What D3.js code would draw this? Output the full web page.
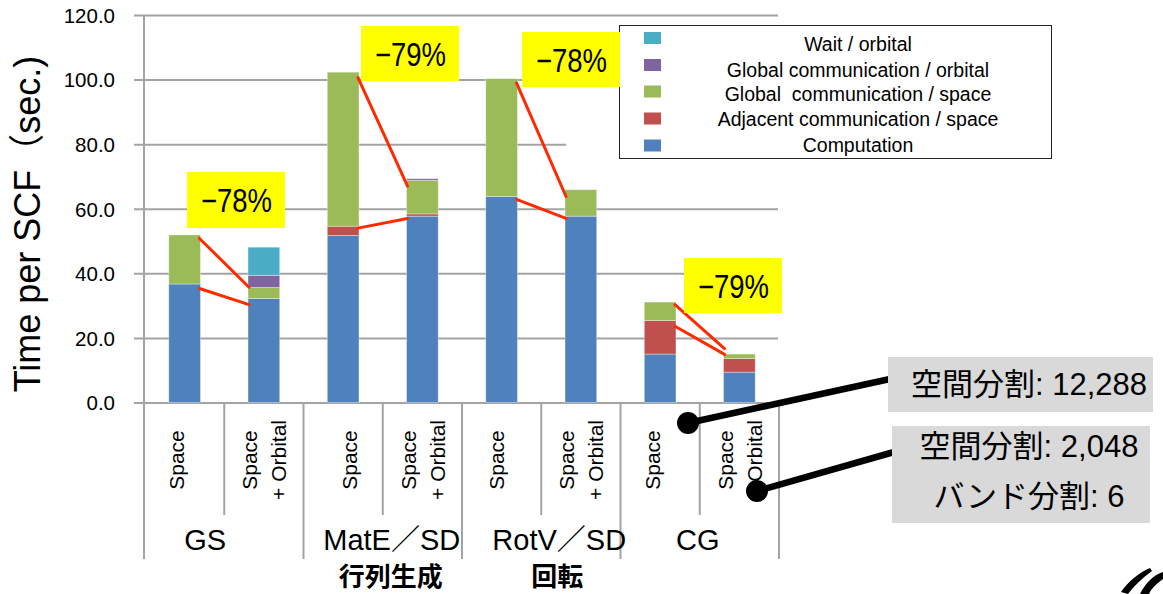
<!DOCTYPE html>
<html>
<head>
<meta charset="utf-8">
<script src="https://cdn.jsdelivr.net/npm/d3@7/dist/d3.min.js"></script>
<style>
  html, body { margin: 0; padding: 0; background: #ffffff; }
  svg { display: block; }
  text { font-family: "Liberation Sans", Arial, "Noto Sans CJK JP", sans-serif; fill: #000; }
  .cjk { font-family: "Liberation Sans", "Noto Sans CJK JP", sans-serif; }
</style>
</head>
<body>
<svg id="chart" width="1163" height="594"></svg>
<script>
// ---- data -------------------------------------------------------------
const groups = ["GS", "MatE／SD", "RotV／SD", "CG"];
const groupSubtitles = ["", "行列生成", "回転", ""];
const variants = [["Space"], ["Space", "+ Orbital"]];

// one entry per bar: GS-Space, GS-Space+Orbital, MatE-Space, ...
const computation   = [36.7, 32.2, 51.7, 57.7, 63.8, 57.7, 15.0, 9.4];
const adjacentSpace = [0.0, 0.0, 2.9, 0.7, 0.0, 0.0, 10.4, 4.2];
const globalSpace   = [15.2, 3.4, 47.7, 10.4, 36.5, 8.2, 5.7, 1.4];
const globalOrbital = [0.0, 3.8, 0.0, 0.5, 0.0, 0.0, 0.0, 0.0];
const waitOrbital   = [0.0, 8.7, 0.0, 0.0, 0.0, 0.0, 0.0, 0.0];

const seriesNames = [
  "Computation",
  "Adjacent communication / space",
  "Global  communication / space",
  "Global communication / orbital",
  "Wait / orbital"
];
const seriesColors = ["#4f81bd", "#c0504d", "#9bbb59", "#8064a2", "#4bacc6"];

const yTicks = [0, 20, 40, 60, 80, 100, 120];

// reduction annotations per group
const reductionLabels = ["−78%", "−79%", "−78%", "−79%"];
// connector lines: [value at Space bar, value at Space+Orbital bar]
const connectorUpper = [[50.8, 35.7], [100.6, 67.0], [99.0, 63.8], [30.3, 16.7]];
const connectorLower = [[35.3, 30.3], [54.0, 57.0], [62.9, 57.0], [23.6, 14.9]];

const calloutTexts = [["空間分割: 12,288"], ["空間分割: 2,048", "バンド分割: 6"]];

// ---- layout -----------------------------------------------------------
const svg = d3.select("#chart");
const plotLeft = 145, plotRight = 779, plotTop = 15, plotBottom = 402.5;

const y = d3.scaleLinear().domain([0, 120]).range([plotBottom, plotTop]);
const x = d3.scaleBand().domain(d3.range(8)).range([plotLeft, plotRight]).padding(0);
const barW = x.bandwidth() * 0.4;
const barX = i => x(i) + (x.bandwidth() - barW) / 2;
const gridColor = "#a3a3a3";

// label nudges (pixels) for single "Space" labels and group names
const spaceLabelShift = [-8, 0, 7, 0, -5, 0, -7, 0];
const groupLabelShift = [-19, 9, 18, -2];
const subtitleShift = [0, 8, 16, 0];

// ---- gridlines & y axis -----------------------------------------------
const yAxis = d3.axisLeft(y)
  .tickValues(yTicks)
  .tickSize(-(plotRight - plotLeft))
  .tickFormat(d3.format(".1f"));

const gAxis = svg.append("g")
  .attr("transform", `translate(${plotLeft - 1},0)`)
  .call(yAxis);
gAxis.select(".domain").remove();
gAxis.selectAll(".tick line")
  .attr("x1", -10)
  .attr("stroke", gridColor)
  .attr("stroke-width", 2);
gAxis.selectAll(".tick text")
  .attr("x", -29)
  .attr("dy", "0.36em")
  .style("font-size", "20.5px")
  .style("font-family", "'Liberation Sans', Arial, sans-serif")
  .attr("fill", "#000");

// y-axis line, continued down as the left frame of the category area
svg.append("line")
  .attr("x1", plotLeft - 1).attr("x2", plotLeft - 1)
  .attr("y1", plotTop).attr("y2", 559)
  .attr("stroke", gridColor).attr("stroke-width", 2);

// y-axis title
svg.append("text")
  .attr("class", "cjk")
  .attr("transform", `translate(40,224) rotate(-90)`)
  .attr("text-anchor", "middle")
  .style("font-size", "36px")
  .text("Time per SCF（sec.)");

// ---- stacked bars ------------------------------------------------------
const table = d3.range(8).map(i => ({
  i,
  s0: computation[i], s1: adjacentSpace[i], s2: globalSpace[i],
  s3: globalOrbital[i], s4: waitOrbital[i]
}));
const stack = d3.stack().keys(["s0", "s1", "s2", "s3", "s4"]);
const stacked = stack(table);

svg.append("g").selectAll("g")
  .data(stacked)
  .join("g")
  .attr("fill", (d, k) => seriesColors[k])
  .selectAll("rect")
  .data(d => d.filter(p => p[1] - p[0] > 0))
  .join("rect")
  .attr("x", p => barX(p.data.i))
  .attr("width", barW)
  .attr("y", p => y(p[1]))
  .attr("height", p => y(p[0]) - y(p[1]))
  .attr("stroke", "rgba(255,255,255,0.45)")
  .attr("stroke-width", 0.8);

// ---- red connector lines ----------------------------------------------
const connectors = [];
groups.forEach((g, gi) => {
  [connectorUpper[gi], connectorLower[gi]].forEach(c => connectors.push({
    x1: barX(gi * 2) + barW - 1, y1: y(c[0]),
    x2: barX(gi * 2 + 1) + 1, y2: y(c[1])
  }));
});
svg.append("g").selectAll("line")
  .data(connectors)
  .join("line")
  .attr("x1", d => d.x1).attr("y1", d => d.y1)
  .attr("x2", d => d.x2).attr("y2", d => d.y2)
  .attr("stroke", "#ff2a00")
  .attr("stroke-width", 3)
  .attr("stroke-linecap", "round");

// ---- category area (separators and labels) -----------------------------
const sep = svg.append("g");
d3.range(1, 9).forEach(k => {
  const xx = plotLeft + k * x.step();
  sep.append("line")
    .attr("x1", xx).attr("x2", xx)
    .attr("y1", plotBottom).attr("y2", k % 2 === 0 ? 559 : 515)
    .attr("stroke", gridColor).attr("stroke-width", 2);
});

const xl = svg.append("g");
d3.range(8).forEach(i => {
  const lines = variants[i % 2];
  const cx = x(i) + x.bandwidth() / 2 + spaceLabelShift[i];
  const t = xl.append("text")
    .attr("transform", `translate(${cx},460) rotate(-90)`)
    .attr("text-anchor", "middle")
    .style("font-size", "21px");
  if (lines.length === 1) {
    t.append("tspan").attr("x", 0).attr("y", 0).attr("dy", "0.35em").text(lines[0]);
  } else {
    t.append("tspan").attr("x", 0).attr("y", -14).attr("dy", "0.35em").text(lines[0]);
    t.append("tspan").attr("x", 0).attr("y", 15).attr("dy", "0.35em").text(lines[1]);
  }
});

groups.forEach((g, gi) => {
  const cx = plotLeft + (gi * 2 + 1) * x.step() + groupLabelShift[gi];
  xl.append("text")
    .attr("class", "cjk")
    .attr("x", cx).attr("y", 550)
    .attr("text-anchor", "middle")
    .style("font-size", "29px")
    .text(g);
  if (groupSubtitles[gi]) {
    xl.append("text")
      .attr("x", plotLeft + (gi * 2 + 1) * x.step() + subtitleShift[gi]).attr("y", 586)
      .attr("text-anchor", "middle")
      .style("font-family", "'Noto Sans CJK JP', sans-serif")
      .style("font-weight", "bold")
      .style("font-size", "26px")
      .text(groupSubtitles[gi]);
  }
});

// ---- legend ------------------------------------------------------------
svg.append("rect")
  .attr("x", 566).attr("y", 100).attr("width", 60).attr("height", 58)
  .attr("fill", "#ffffff");

const legend = svg.append("g");
legend.append("rect")
  .attr("x", 619.5).attr("y", 25.5).attr("width", 432).attr("height", 133)
  .attr("fill", "#ffffff").attr("stroke", "#222").attr("stroke-width", 1);

const legendOrder = [4, 3, 2, 1, 0];
const legendTextY = [44, 70, 94, 119.5, 145];
const legendSwatchY = [38, 65, 91.5, 118.5, 145.5];
legendOrder.forEach((k, r) => {
  legend.append("rect")
    .attr("x", 644).attr("y", legendSwatchY[r] - 6)
    .attr("width", 17).attr("height", 12)
    .attr("fill", seriesColors[k]);
  legend.append("text")
    .attr("x", 858).attr("y", legendTextY[r])
    .attr("dy", "0.35em")
    .attr("text-anchor", "middle")
    .style("font-size", "19.5px")
    .style("white-space", "pre")
    .text(seriesNames[k]);
});

// ---- reduction boxes ---------------------------------------------------
const boxRects = [[187, 172, 98, 56], [361, 26, 98, 55], [522, 32, 98, 55], [684, 258, 98, 55]];
const boxes = svg.append("g");
reductionLabels.forEach((lab, gi) => {
  const [bx, by, bw, bh] = boxRects[gi];
  boxes.append("rect")
    .attr("x", bx).attr("y", by).attr("width", bw).attr("height", bh)
    .attr("fill", "#ffff00");
  boxes.append("text")
    .attr("x", bx + bw / 2 - 35).attr("y", by + bh / 2 + 12)
    .attr("textLength", 71)
    .attr("lengthAdjust", "spacingAndGlyphs")
    .style("font-size", "33px")
    .text(lab);
});

// ---- decomposition callouts --------------------------------------------
const callouts = [
  { dot: [688, 423], end: [890, 379], box: [888, 357, 265, 55], lines: calloutTexts[0], ty: [384.5] },
  { dot: [757, 491], end: [894, 452], box: [892, 426, 258, 97], lines: calloutTexts[1], ty: [446.5, 496.5] }
];
const co = svg.append("g");
callouts.forEach(c => {
  co.append("line")
    .attr("x1", c.dot[0]).attr("y1", c.dot[1])
    .attr("x2", c.end[0]).attr("y2", c.end[1])
    .attr("stroke", "#000").attr("stroke-width", 6.5);
  co.append("circle")
    .attr("cx", c.dot[0]).attr("cy", c.dot[1]).attr("r", 11)
    .attr("fill", "#000");
});
callouts.forEach(c => {
  const [bx, by, bw, bh] = c.box;
  co.append("rect")
    .attr("x", bx).attr("y", by).attr("width", bw).attr("height", bh)
    .attr("fill", "#d9d9d9");
  c.lines.forEach((ln, li) => {
    co.append("text")
      .attr("class", "cjk")
      .attr("x", 1029).attr("y", c.ty[li])
      .attr("dy", "0.35em")
      .attr("text-anchor", "middle")
      .style("font-size", "31px")
      .text(ln);
  });
});

// ---- corner logo mark --------------------------------------------------
const logo = svg.append("g").attr("fill", "#000");
logo.append("path")
  .attr("d", "M1121,592 C1128,582 1138,573 1150,568 L1152,571 C1142,578 1134,586 1128,594 Z");
logo.append("path")
  .attr("d", "M1140,594 C1146,582 1154,575 1163,572 L1163,579 C1156,584 1151,589 1149,594 Z");
</script>
</body>
</html>
